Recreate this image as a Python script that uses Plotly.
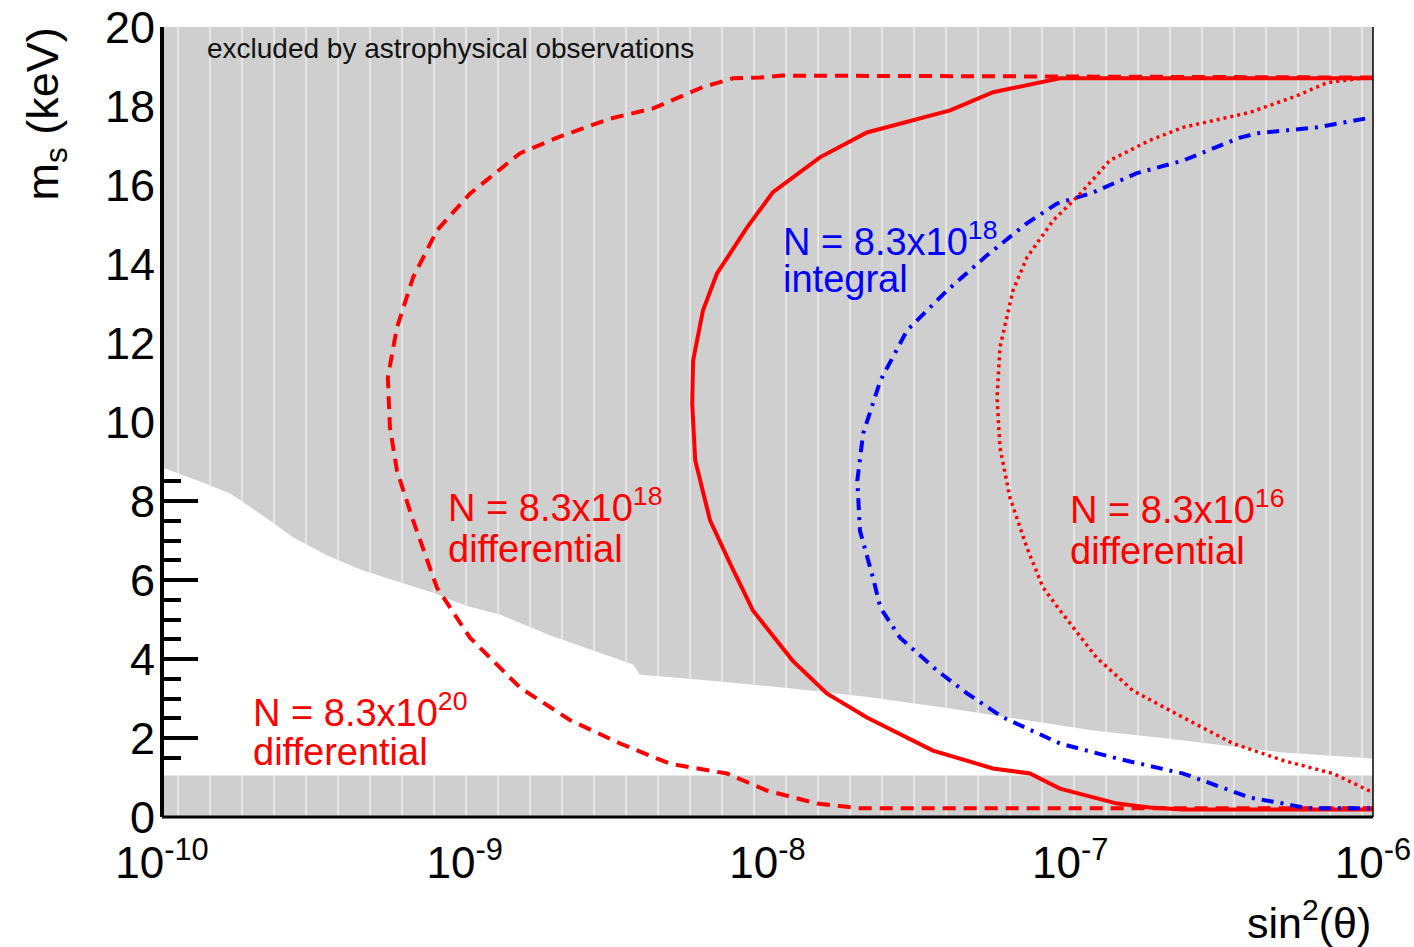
import plotly.graph_objects as go

# ---------------- data ----------------
# excluded region boundary (astrophysical observations)
excl_x = [1e-10, 1.31e-10, 1.68e-10, 2.11e-10, 2.71e-10, 3.51e-10, 4.61e-10, 6.11e-10,
          7.85e-10, 1.01e-9, 1.31e-9, 1.91e-9, 3.60e-9, 3.79e-9, 5.89e-9, 1.23e-8,
          2.18e-8, 4.01e-8, 1.19e-7, 2.09e-7, 5.05e-7, 1e-6]
excl_y = [8.85, 8.52, 8.19, 7.68, 7.08, 6.62, 6.24, 5.94,
          5.68, 5.35, 5.12, 4.60, 3.86, 3.60, 3.48, 3.25,
          3.03, 2.75, 2.19, 1.99, 1.63, 1.48]
excl_top = 20.0
band_x = [1e-10, 1e-6]
band_top = 1.05

# N = 8.3x10^20, differential (red dashed)
n20_x = [1e-6, 1.12e-8, 9.44e-9, 7.69e-9, 6.12e-9, 5.14e-9, 4.19e-9, 3.02e-9, 2.02e-9,
         1.52e-9, 1.04e-9, 8.09e-10, 6.75e-10, 5.97e-10, 5.57e-10, 5.66e-10, 5.97e-10,
         6.75e-10, 8.09e-10, 1.04e-9, 1.52e-9, 2.23e-9, 3.26e-9, 4.76e-9, 7.35e-9,
         9.95e-9, 1.46e-8, 2.02e-8, 1e-6]
n20_y = [18.72, 18.77, 18.72, 18.70, 18.48, 18.22, 17.94, 17.68, 17.20,
         16.80, 15.78, 14.85, 13.66, 12.39, 11.13, 9.86, 8.77,
         7.51, 5.81, 4.54, 3.28, 2.45, 1.86, 1.35, 1.10,
         0.67, 0.34, 0.22, 0.22]

# N = 8.3x10^18, differential (red solid)
n18d_x = [1e-6, 9.25e-8, 5.56e-8, 4.01e-8, 2.13e-8, 1.49e-8, 1.04e-8, 8.55e-9, 6.81e-9,
          6.12e-9, 5.68e-9, 5.64e-9, 5.77e-9, 5.98e-9, 6.46e-9, 7.52e-9, 8.95e-9,
          1.21e-8, 1.57e-8, 2.13e-8, 3.52e-8, 5.56e-8, 7.36e-8, 9.25e-8, 1.43e-7,
          1.83e-7, 2.36e-7, 1e-6]
n18d_y = [18.70, 18.70, 18.35, 17.89, 17.33, 16.70, 15.81, 14.92, 13.76,
          12.82, 11.56, 10.47, 9.03, 8.52, 7.51, 6.42, 5.23,
          3.96, 3.13, 2.52, 1.68, 1.23, 1.10, 0.72, 0.34,
          0.24, 0.19, 0.19]

# N = 8.3x10^18, integral (blue dash-dot)
n18i_x = [9.42e-7, 6.53e-7, 4.14e-7, 3.64e-7, 2.36e-7, 1.66e-7, 1.19e-7, 9.04e-8, 7.19e-8,
          5.31e-8, 3.92e-8, 2.89e-8, 2.36e-8, 2.07e-8, 1.98e-8, 2.02e-8, 2.23e-8,
          2.36e-8, 2.74e-8, 3.63e-8, 4.56e-8, 6.00e-8, 9.25e-8, 1.43e-7, 2.36e-7,
          3.93e-7, 5.05e-7, 6.05e-7, 1e-6]
n18i_y = [17.68, 17.46, 17.31, 17.20, 16.62, 16.30, 15.81, 15.53, 15.03,
          14.22, 13.33, 12.32, 11.05, 9.71, 8.52, 7.25, 6.06,
          5.30, 4.54, 3.71, 3.13, 2.52, 1.86, 1.48, 1.10,
          0.49, 0.34, 0.22, 0.22]

# N = 8.3x10^16, differential (red dotted)
n16_x = [9.55e-7, 7.05e-7, 5.61e-7, 3.93e-7, 2.36e-7, 1.83e-7, 1.35e-7, 1.08e-7, 8.77e-8,
         7.19e-8, 6.47e-8, 5.86e-8, 5.73e-8, 5.86e-8, 6.32e-8, 7.19e-8, 8.13e-8,
         9.25e-8, 1.22e-7, 1.61e-7, 2.36e-7, 3.45e-7, 5.05e-7, 7.38e-7, 1e-6]
n16_y = [18.72, 18.59, 18.26, 17.84, 17.46, 17.13, 16.62, 15.78, 15.10,
         14.16, 13.33, 11.89, 10.62, 9.35, 8.09, 6.82, 5.81,
         5.23, 4.04, 3.20, 2.52, 1.86, 1.43, 1.10, 0.62]

x_tickvals = [1e-10, 1e-9, 1e-8, 1e-7, 1e-6]
x_ticktext = ["10<sup>-10</sup>", "10<sup>-9</sup>", "10<sup>-8</sup>",
              "10<sup>-7</sup>", "10<sup>-6</sup>"]
y_tickvals = [0, 2, 4, 6, 8, 10, 12, 14, 16, 18, 20]

# ---------------- layout geometry ----------------
W, H = 1414, 947
L, R, T, B = 162, 41, 27, 130
PW, PH = W - L - R, H - T - B


def px(xp):
    return (xp - L) / PW


def py(yp):
    return (H - B - yp) / PH


FONT = "Liberation Sans, Arial, Helvetica, sans-serif"
RED = "#ff0000"
BLUE = "#0000ff"

pattern = dict(shape="|", bgcolor="#cfcfcf", fgcolor="#ffffff",
               size=32, solidity=0.06)

fig = go.Figure()

# excluded region (upper)
fig.add_trace(go.Scatter(
    x=excl_x + [band_x[1], band_x[0]],
    y=excl_y + [excl_top, excl_top],
    fill="toself", mode="lines", line=dict(width=0, color="#cfcfcf"),
    fillcolor="#cfcfcf", fillpattern=pattern, hoverinfo="skip", showlegend=False))
# excluded band (bottom)
fig.add_trace(go.Scatter(
    x=[band_x[0], band_x[1], band_x[1], band_x[0]],
    y=[0, 0, band_top, band_top],
    fill="toself", mode="lines", line=dict(width=0, color="#cfcfcf"),
    fillcolor="#cfcfcf", fillpattern=pattern, hoverinfo="skip", showlegend=False))

fig.add_trace(go.Scatter(x=n20_x, y=n20_y, mode="lines", showlegend=False,
                         line=dict(color=RED, width=4, dash="13px,8px")))
fig.add_trace(go.Scatter(x=n18d_x, y=n18d_y, mode="lines", showlegend=False,
                         line=dict(color=RED, width=4)))
fig.add_trace(go.Scatter(x=n18i_x, y=n18i_y, mode="lines", showlegend=False,
                         line=dict(color=BLUE, width=4, dash="12px,7px,3px,7px")))
fig.add_trace(go.Scatter(x=n16_x, y=n16_y, mode="lines", showlegend=False,
                         line=dict(color=RED, width=3.5, dash="3px,4px")))

ann = []


def add_text(text, xp, yp, size, color, xanchor="left", yanchor="middle", angle=0):
    ann.append(dict(text=text, x=px(xp), y=py(yp), xref="paper", yref="paper",
                    xanchor=xanchor, yanchor=yanchor, showarrow=False, textangle=angle,
                    font=dict(family=FONT, size=size, color=color)))


add_text("excluded by astrophysical observations", 205, 48, 28, "#111111")
add_text("N = 8.3x10<sup>18</sup>", 446, 505, 38, RED)
add_text("differential", 446, 549, 38, RED)
add_text("N = 8.3x10<sup>20</sup>", 251, 710, 38, RED)
add_text("differential", 251, 752, 38, RED)
add_text("N = 8.3x10<sup>18</sup>", 781, 239, 38, BLUE)
add_text("integral", 781, 279, 38, BLUE)
add_text("N = 8.3x10<sup>16</sup>", 1068, 507, 38, RED)
add_text("differential", 1068, 551, 38, RED)
# axis titles
add_text("sin<sup>2</sup>(θ)", 1373, 920, 43, "#000000", xanchor="right")
add_text("m<sub>s</sub> (keV)", 45, 26, 45, "#000000", xanchor="center", yanchor="top", angle=-90)

fig.update_layout(
    width=W, height=H,
    margin=dict(l=L, r=R, t=T, b=B, autoexpand=False),
    paper_bgcolor="white", plot_bgcolor="white",
    annotations=ann,
    shapes=[
        dict(type="line", xref="paper", yref="paper", x0=0, x1=0, y0=0, y1=1,
             line=dict(color="black", width=4), layer="above"),
        dict(type="line", xref="paper", yref="paper", x0=0, x1=1, y0=0, y1=0,
             line=dict(color="black", width=3), layer="above"),
        dict(type="line", xref="paper", yref="paper", x0=1, x1=1, y0=0, y1=1,
             line=dict(color="black", width=1.5), layer="above"),
    ],
)
fig.update_xaxes(type="log", range=[-10, -6], showgrid=False, zeroline=False,
                 showline=False, layer="below traces",
                 tickvals=x_tickvals, ticktext=x_ticktext,
                 ticks="inside", ticklen=23, tickwidth=2, tickcolor="black",
                 ticklabelstandoff=16,
                 tickfont=dict(family=FONT, size=44, color="black"))
fig.update_yaxes(range=[0, 20], showgrid=False, zeroline=False, showline=False,
                 layer="below traces", tickvals=y_tickvals,
                 ticks="inside", ticklen=36, tickwidth=4, tickcolor="black",
                 ticklabelstandoff=6,
                 minor=dict(dtick=0.5, ticks="inside", ticklen=19, tickwidth=4,
                            tickcolor="black", showgrid=False),
                 tickfont=dict(family=FONT, size=45, color="black"))

fig.write_html("out.html")
